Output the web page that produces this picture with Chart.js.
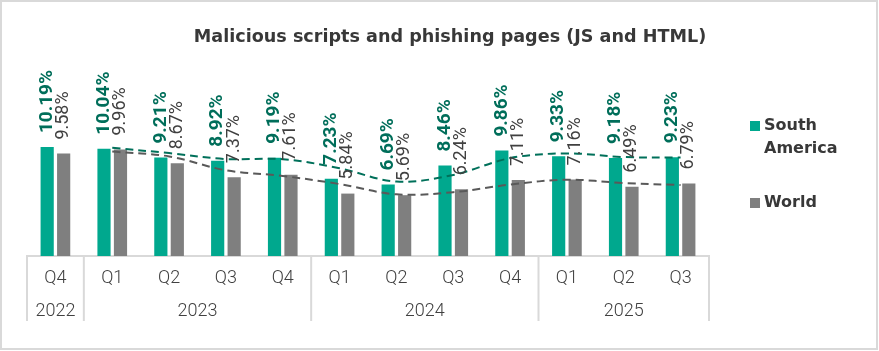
<!DOCTYPE html>
<html>
<head>
<meta charset="utf-8">
<script src="https://cdn.jsdelivr.net/npm/chart.js@4/dist/chart.umd.min.js"></script>
<style>
html,body{margin:0;padding:0;background:#fff;}
#wrap{position:relative;width:879px;height:351px;}
</style>
</head>
<body>
<div id="wrap"><canvas id="c" width="879" height="351"></canvas></div>
<script>
const titleText = 'Malicious scripts and phishing pages (JS and HTML)';
const quarters = ['Q4','Q1','Q2','Q3','Q4','Q1','Q2','Q3','Q4','Q1','Q2','Q3'];
const yearLabels = ['2022','2023','2024','2025'];
const yearSpans = [1,4,4,3];
const seriesNames = ['South America','World'];
const southAmerica = [10.19,10.04,9.21,8.92,9.19,7.23,6.69,8.46,9.86,9.33,9.18,9.23];
const world = [9.58,9.96,8.67,7.37,7.61,5.84,5.69,6.24,7.11,7.16,6.49,6.79];
const southAmericaTrend = [null,10.12,9.63,9.07,9.06,8.21,6.96,7.58,9.16,9.60,9.26,9.21];
const worldTrend = [null,9.77,9.32,8.02,7.49,6.73,5.77,5.97,6.68,7.14,6.83,6.64];

const SA_COLOR = '#00A88E';
const W_COLOR = '#7F7F7F';
const SA_LABEL = '#006E5A';
const W_LABEL = '#404040';
const SA_TREND = '#00705A';
const W_TREND = '#595959';
const LINE_GREY = '#D9D9D9';
const TEXT = '#404040';

const decor = {
  id: 'decor',
  afterDatasetsDraw(chart) {
    const ctx = chart.ctx;
    const drawLabels = (dsIndex, values, font, color) => {
      const meta = chart.getDatasetMeta(dsIndex);
      meta.data.forEach((bar, i) => {
        ctx.save();
        ctx.translate(bar.x, bar.y - 14);
        ctx.rotate(-Math.PI / 2);
        ctx.font = font;
        ctx.fillStyle = color;
        ctx.textAlign = 'left';
        ctx.textBaseline = 'middle';
        ctx.fillText(values[i].toFixed(2) + '%', 0, 0);
        ctx.restore();
      });
    };
    drawLabels(0, southAmerica, 'bold 19px Roboto', SA_LABEL);
    drawLabels(1, world, '18px Roboto', W_LABEL);
  },
  afterDraw(chart) {
    const ctx = chart.ctx;
    const x = chart.scales.x;
    const area = chart.chartArea;
    const step = x.getPixelForValue(1) - x.getPixelForValue(0);
    ctx.save();
    ctx.strokeStyle = LINE_GREY;
    ctx.lineWidth = 2;
    let idx = 0;
    const bounds = [0];
    yearSpans.forEach(s => { idx += s; bounds.push(idx); });
    bounds.forEach(b => {
      const px = x.getPixelForValue(b) - step / 2;
      ctx.beginPath();
      ctx.moveTo(px, area.bottom);
      ctx.lineTo(px, area.bottom + 65);
      ctx.stroke();
    });
    ctx.font = '300 18px Roboto';
    ctx.fillStyle = TEXT;
    ctx.textAlign = 'center';
    ctx.textBaseline = 'middle';
    for (let k = 0; k < yearLabels.length; k++) {
      const a = x.getPixelForValue(bounds[k]) - step / 2;
      const b = x.getPixelForValue(bounds[k + 1]) - step / 2;
      ctx.fillText(yearLabels[k], (a + b) / 2, area.bottom + 55);
    }
    ctx.font = 'bold 17.6px "DejaVu Sans"';
    ctx.fillStyle = '#383838';
    ctx.fillText(titleText, 450, 37);
    ctx.textAlign = 'left';
    ctx.font = 'bold 16px "DejaVu Sans"';
    ctx.fillStyle = SA_COLOR;
    ctx.fillRect(750, 121, 10, 10);
    ctx.fillStyle = W_COLOR;
    ctx.fillRect(750, 198, 10, 10);
    ctx.fillStyle = '#383838';
    const saParts = seriesNames[0].split(' ');
    ctx.fillText(saParts[0], 764, 126);
    ctx.fillText(saParts[1], 764, 149);
    ctx.fillText(seriesNames[1], 764, 203);
    ctx.strokeStyle = LINE_GREY;
    ctx.lineWidth = 2;
    ctx.strokeRect(1, 1, 876, 348);
    ctx.restore();
  }
};

new Chart(document.getElementById('c'), {
  type: 'bar',
  data: {
    labels: quarters,
    datasets: [
      { label: seriesNames[0], data: southAmerica, backgroundColor: SA_COLOR, order: 2,
        categoryPercentage: 0.58, barPercentage: 0.8 },
      { label: seriesNames[1], data: world, backgroundColor: W_COLOR, order: 2,
        categoryPercentage: 0.58, barPercentage: 0.8 },
      { type: 'line', label: 'SA trend', data: southAmericaTrend, borderColor: SA_TREND,
        borderWidth: 2, borderDash: [8, 5], pointRadius: 0, tension: 0.35, fill: false, order: 0 },
      { type: 'line', label: 'World trend', data: worldTrend, borderColor: W_TREND,
        borderWidth: 2, borderDash: [8, 5], pointRadius: 0, tension: 0.35, fill: false, order: 1 }
    ]
  },
  options: {
    responsive: false,
    animation: false,
    layout: { padding: { left: 27, right: 170, top: 85, bottom: 0 } },
    plugins: { legend: { display: false }, title: { display: false }, tooltip: { enabled: false } },
    scales: {
      x: {
        grid: { display: false, drawTicks: false },
        border: { display: true, color: LINE_GREY, width: 2 },
        ticks: { color: TEXT, font: { family: 'Roboto', size: 18, weight: '300' }, padding: 12, maxRotation: 0 },
        afterFit(scale) { scale.height = 95; }
      },
      y: { display: false, min: 0, max: 16 }
    }
  },
  plugins: [decor]
});
</script>
</body>
</html>
